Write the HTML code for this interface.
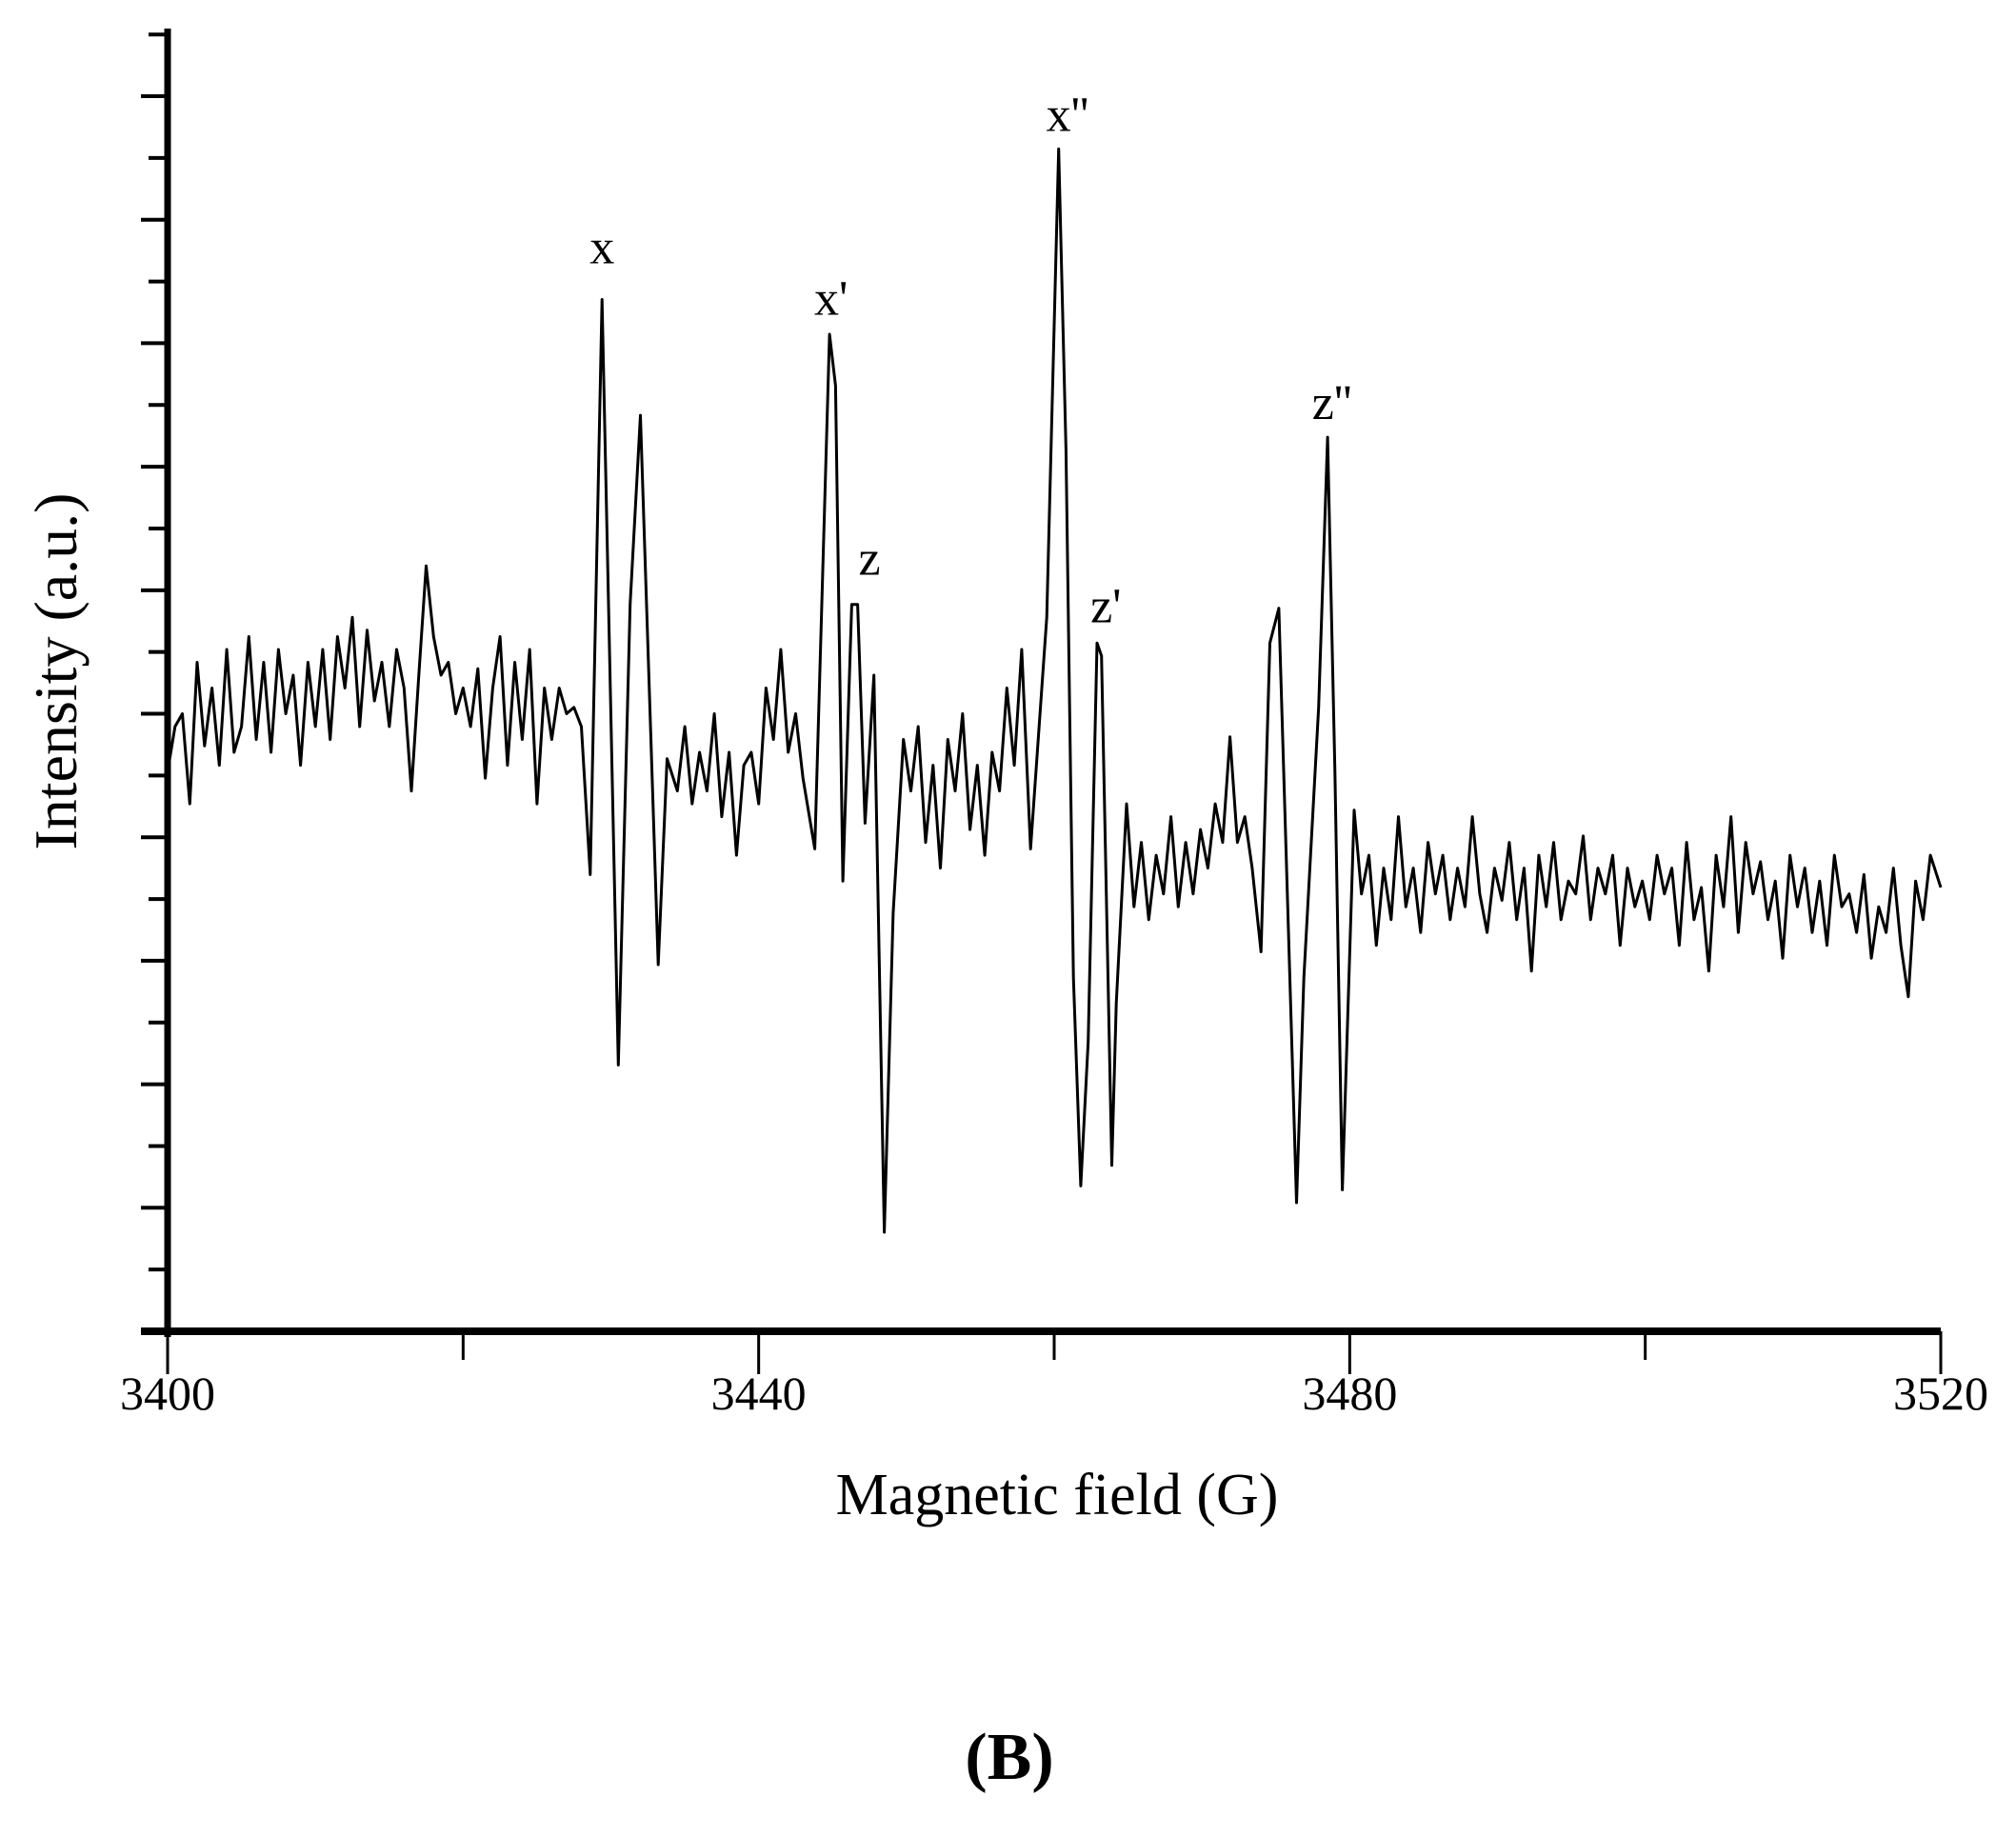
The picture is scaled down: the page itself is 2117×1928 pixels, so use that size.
<!DOCTYPE html>
<html><head><meta charset="utf-8"><style>
html,body{margin:0;padding:0;background:#fff}
svg{display:block}
text{font-family:"Liberation Serif",serif;fill:#000}
</style></head><body>
<svg id="chart" width="2117" height="1928" viewBox="0 0 2117 1928" xmlns="http://www.w3.org/2000/svg">
<g id="axes"></g>
<path id="trace" fill="none" stroke="#000" stroke-width="3" stroke-linejoin="round"></path>
<g id="ann"></g>
<text x="1110" y="1590" font-size="62" text-anchor="middle">Magnetic field (G)</text>
<text transform="translate(80,705) rotate(-90)" font-size="64" text-anchor="middle">Intensity (a.u.)</text>
<text x="1060" y="1868" font-size="70" font-weight="bold" text-anchor="middle">(B)</text>
</svg>
<script>
const fields=[3400,3400.5,3401,3401.5,3402,3402.5,3403,3403.5,3404,3404.5,3405,3405.5,3406,3406.5,3407,3407.5,3408,3408.5,3409,3409.5,3410,3410.5,3411,3411.5,3412,3412.5,3413,3413.5,3414,3414.5,3415,3415.5,3416,3416.5,3417,3417.5,3418,3418.5,3419,3419.5,3420,3420.5,3421,3421.5,3422,3422.5,3423,3423.5,3424,3424.5,3425,3425.5,3426,3426.5,3427,3427.5,3428,
3428.6,3429.4,3430.5,3431.3,3432,3433.2,3433.8,3434.5,3435,3435.5,3436,3436.5,3437,3437.5,3438,3438.5,3439,3439.5,3440,3440.5,3441,3441.5,3442,3442.5,3443,3443.8,3444.8,3445.2,3445.7,3446.3,3446.7,3447.2,3447.8,3448.5,3449.1,3449.8,3450.3,3450.8,3451.3,3451.8,3452.3,3452.8,3453.3,3453.8,3454.3,3454.8,3455.3,3455.8,3456.3,3456.8,3457.3,3457.8,3458.4,3459.5,3460.3,3460.8,3461.3,3461.8,3462.3,3462.9,3463.2,3463.9,3464.2,3464.9,3465.4,3465.9,3466.4,3466.9,3467.4,3467.9,3468.4,3468.9,3469.4,3469.9,3470.4,3470.9,3471.4,3471.9,3472.4,3472.9,3473.4,3474,3474.6,3475.2,3476.4,3476.9,3477.9,3478.5,3479,3479.5,3480.3,3480.8,3481.3,3481.8,3482.3,3482.8,3483.3,3483.8,3484.3,3484.8,3485.3,3485.8,3486.3,3486.8,3487.3,3487.8,3488.3,3488.8,3489.3,3489.8,3490.3,3490.8,3491.3,3491.8,3492.3,3492.8,3493.3,3493.8,3494.3,3494.8,3495.3,3495.8,3496.3,3496.8,3497.3,3497.8,3498.3,3498.8,3499.3,3499.8,3500.3,3500.8,3501.3,3501.8,3502.3,3502.8,3503.3,3503.8,3504.3,3504.8,3505.3,3505.8,3506.3,3506.8,3507.3,3507.8,3508.3,3508.8,3509.3,3509.8,3510.3,3510.8,3511.3,3511.8,3512.3,3512.8,3513.3,3513.8,3514.3,3514.8,3515.3,3515.8,3516.3,3516.8,3517.3,3517.8,3518.3,3518.8,3519.3,3520];
const intensities=[435,470,480,410,520,455,500,440,530,450,470,540,460,520,450,530,480,510,440,520,470,530,460,540,500,555,470,545,490,520,470,530,500,420,510,595,540,510,520,480,500,470,515,430,500,540,440,520,460,530,410,500,460,500,480,485,470,
355,802,207,565,712,285,445,420,470,410,450,420,480,400,450,370,440,450,410,500,460,530,450,480,430,375,775,735,350,565,565,395,510,77,325,460,420,470,380,440,360,460,420,480,390,440,370,450,420,500,440,530,375,555,919,685,275,113,225,535,525,129,255,410,330,380,320,370,340,400,330,380,340,390,360,410,380,462,380,400,360,295,535,562,100,275,485,695,435,110,405,340,370,300,360,320,400,330,360,310,380,340,370,320,360,330,400,340,310,360,335,380,320,360,280,370,330,380,320,350,340,385,320,360,340,370,300,360,330,350,320,370,340,360,300,380,320,345,280,370,330,400,310,380,340,365,320,350,290,370,330,360,310,350,300,370,330,340,310,355,290,330,310,360,300,260,350,320,370,345];
const xTicks=[3400,3440,3480,3520];
const xMinor=[3420,3460,3500];
const peakLabels=["x","x'","z","x''","z'","z''"];
const peakFields=[3429.4,3444.9,3447.5,3460.9,3463.5,3478.8];
const peakLevels=[830,790,588,933,551,709];

const X0=176,X1=2038,Y0=1398,YT=30,K=1.351;
const sx=f=>X0+(f-3400)/120*(X1-X0);
const sy=v=>Y0-v*K;
const NS="http://www.w3.org/2000/svg";
const ax=document.getElementById('axes');
function ln(x1,y1,x2,y2,w,name){const l=document.createElementNS(NS,'line');
l.setAttribute('x1',x1);l.setAttribute('y1',y1);l.setAttribute('x2',x2);l.setAttribute('y2',y2);
l.setAttribute('stroke','#000');l.setAttribute('stroke-width',w);


ax.appendChild(l);}
ln(X0,YT,X0,Y0+6,7,'y-axis-line');
ln(X0-28,Y0,X1,Y0,8,'x-axis-line');
for(let v=0;v*K<=Y0-YT+1;v+=48){const major=(v%96===0);ln(major?X0-28:X0-20,sy(v),X0,sy(v),4,'y-tick');}
xTicks.forEach(t=>{ln(sx(t),Y0,sx(t),Y0+45,3,'x-tick');
const tx=document.createElementNS(NS,'text');tx.setAttribute('x',sx(t));tx.setAttribute('y',1480);tx.setAttribute('font-size','50');tx.setAttribute('text-anchor','middle');tx.textContent=t;


ax.appendChild(tx);});
xMinor.forEach(t=>ln(sx(t),Y0,sx(t),Y0+30,3,'x-minor-tick'));
let d='';fields.forEach((f,i)=>{d+=(i?'L':'M')+sx(f).toFixed(1)+' '+sy(intensities[i]).toFixed(1);});
document.getElementById('trace').setAttribute('d',d);
const an=document.getElementById('ann');
peakLabels.forEach((s,i)=>{const t=document.createElementNS(NS,'text');
t.setAttribute('x',sx(peakFields[i]));t.setAttribute('y',sy(peakLevels[i]));t.setAttribute('font-size','52');t.setAttribute('text-anchor','middle');t.textContent=s;


an.appendChild(t);});
</script>
</body></html>
